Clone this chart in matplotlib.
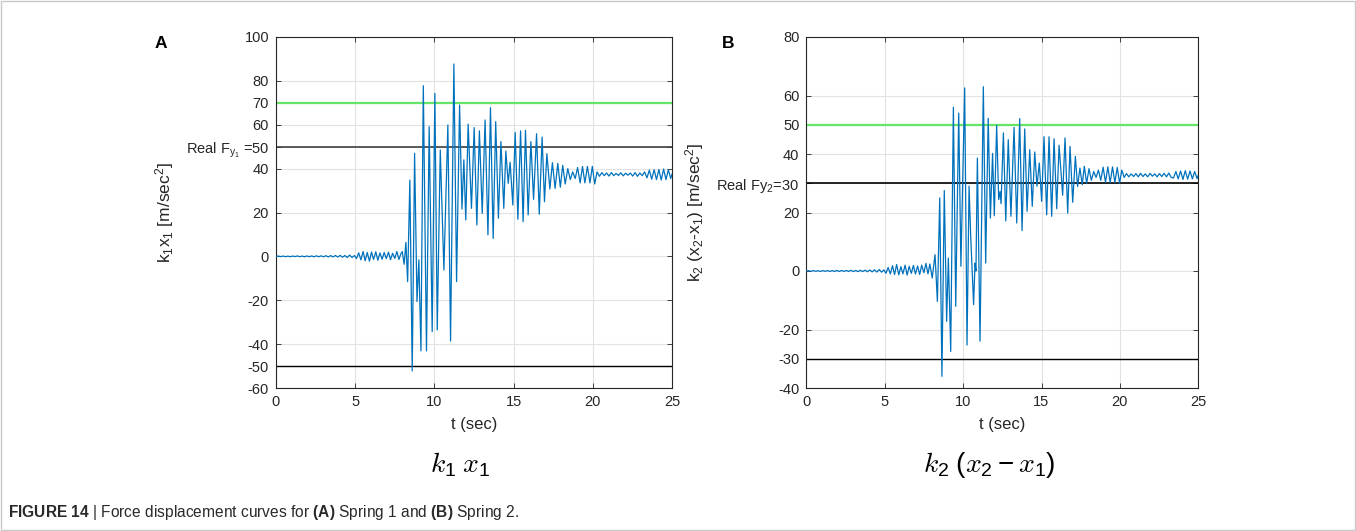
import matplotlib
matplotlib.use("Agg")
import matplotlib.pyplot as plt
from matplotlib.patches import Rectangle

plt.rcParams.update({
    "font.family": ["Liberation Sans", "DejaVu Sans"],
    "mathtext.fontset": "custom",
    "mathtext.rm": "Liberation Sans",
    "mathtext.it": "Liberation Sans:italic",
    "mathtext.bf": "Liberation Sans:bold",
    "mathtext.default": "regular",
})

# ---------------- data (peaks / troughs) ----------------
t_a = [0.00, 0.15, 0.30, 0.45, 0.60, 0.75, 0.90, 1.05, 1.20, 1.35, 1.50, 1.65, 1.80, 1.95,
       2.10, 2.25, 2.40, 2.55, 2.70, 2.85, 3.00, 3.15, 3.30, 3.45, 3.60, 3.75, 3.90, 4.05,
       4.20, 4.35, 4.50, 4.65, 4.80, 4.95,
       5.08, 5.22, 5.36, 5.50, 5.63, 5.76, 5.90, 6.03, 6.16, 6.30, 6.43, 6.56, 6.70, 6.83,
       6.96, 7.10, 7.23, 7.36, 7.50, 7.63, 7.76, 7.88,
       7.97, 8.09, 8.20, 8.31, 8.45, 8.60, 8.75, 8.90, 9.02, 9.15, 9.30, 9.50, 9.67, 9.86,
       10.03, 10.18, 10.37, 10.60, 10.85, 11.02, 11.23, 11.40, 11.59, 11.74, 11.86, 11.98,
       12.13, 12.34, 12.51, 12.68, 12.84, 13.02, 13.20, 13.38, 13.54, 13.71, 13.87, 14.04,
       14.20, 14.38, 14.51, 14.66, 14.78, 14.95, 15.10, 15.27, 15.44, 15.60, 15.75, 15.92,
       16.09, 16.26, 16.45, 16.62, 16.80, 16.95, 17.10, 17.29, 17.45, 17.62, 17.79, 17.95,
       18.10, 18.26, 18.42, 18.58, 18.73, 18.89, 19.04, 19.20, 19.35, 19.50, 19.66, 19.82,
       19.97, 20.12, 20.27, 20.42, 20.57, 20.72, 20.87, 21.02, 21.17, 21.32, 21.47, 21.62,
       21.77, 21.92, 22.07, 22.22, 22.37, 22.52, 22.67, 22.82, 22.97, 23.12, 23.27, 23.42,
       23.57, 23.72, 23.87, 24.02, 24.17, 24.32, 24.47, 24.62, 24.77, 24.92, 25.00]
y_a = [0.0, 0.15, -0.1, 0.15, -0.15, 0.1, -0.15, 0.15, -0.1, 0.2, -0.15, 0.15, -0.2, 0.2,
       -0.15, 0.2, -0.2, 0.25, -0.15, 0.25, -0.2, 0.3, -0.25, 0.35, -0.25, 0.4, -0.3, 0.45,
       -0.4, 0.4, -0.5, 0.6, -0.5, 0.4,
       -1.0, 1.6, -1.6, 2.2, -2.0, 1.8, -2.2, 2.0, -1.4, 2.1, -1.8, 1.6, -1.3, 1.8,
       -1.0, 1.9, -1.5, 1.4, -0.9, 2.2, -1.4, 1.1,
       2.2, -3.6, 6.4, -11.5, 34.8, -52.2, 47.0, -20.6, -1.6, -43.1, 77.8, -43.1, 59.1, -34.3,
       74.3, -33.5, 48.5, -6.2, 59.9, -38.6, 87.7, -11.5, 69.0, 21.6, 44.0, 16.6,
       60.3, 21.9, 58.7, 14.3, 57.2, 19.6, 62.2, 9.8, 67.8, 8.2, 61.4, 17.4,
       52.3, 21.9, 48.0, 33.3, 42.9, 23.4, 56.5, 16.9, 57.2, 15.8, 57.5, 18.9,
       52.3, 26.0, 55.9, 19.2, 54.4, 24.9, 46.8, 30.7, 42.7, 31.0, 42.4, 31.5,
       41.5, 33.0, 40.0, 35.0, 38.5, 35.5, 40.5, 33.5, 41.0, 33.5, 41.0, 33.5,
       41.0, 33.0, 38.5, 36.5, 38.2, 36.8, 38.0, 36.6, 38.2, 36.8, 37.8, 36.9,
       38.1, 36.7, 37.9, 37.0, 38.0, 36.6, 38.2, 36.5, 38.0, 36.8, 38.5, 35.8,
       39.3, 35.2, 39.5, 35.0, 39.6, 34.8, 39.8, 35.0, 39.5, 35.5, 37.5]

t_b = [0.00, 0.15, 0.30, 0.45, 0.60, 0.75, 0.90, 1.05, 1.20, 1.35, 1.50, 1.65, 1.80, 1.95,
       2.10, 2.25, 2.40, 2.55, 2.70, 2.85, 3.00, 3.15, 3.30, 3.45, 3.60, 3.75, 3.90, 4.05,
       4.20, 4.35, 4.50, 4.65, 4.80, 4.95,
       5.08, 5.22, 5.36, 5.50, 5.63, 5.76, 5.90, 6.03, 6.16, 6.30, 6.43, 6.56, 6.70, 6.83,
       6.96, 7.10, 7.23, 7.36, 7.50, 7.63, 7.76, 7.88, 8.03,
       8.21, 8.36, 8.51, 8.65, 8.80, 8.95, 9.06, 9.21, 9.38, 9.53, 9.72, 9.86, 10.10, 10.25,
       10.38, 10.48, 10.67, 10.76, 10.82, 10.91, 11.08, 11.29, 11.44, 11.60, 11.74, 11.88,
       11.99, 12.14, 12.27, 12.36, 12.42, 12.57, 12.72, 12.88, 13.05, 13.25, 13.42, 13.61,
       13.76, 13.93, 14.08, 14.25, 14.41, 14.57, 14.71, 14.86, 15.01, 15.16, 15.33, 15.48,
       15.65, 15.80, 15.97, 16.12, 16.35, 16.50, 16.67, 16.82, 16.99, 17.16, 17.30, 17.45,
       17.60, 17.73, 17.88, 18.03, 18.18, 18.33, 18.48, 18.63, 18.78, 18.93, 19.08, 19.23,
       19.38, 19.53, 19.68, 19.83, 19.98, 20.12, 20.27, 20.42, 20.57, 20.72, 20.87, 21.02,
       21.17, 21.32, 21.47, 21.62, 21.77, 21.92, 22.07, 22.22, 22.37, 22.52, 22.67, 22.82,
       22.97, 23.12, 23.27, 23.42, 23.57, 23.72, 23.87, 24.02, 24.17, 24.32, 24.47, 24.62,
       24.77, 24.92, 25.00]
y_b = [0.0, 0.1, -0.1, 0.15, -0.1, 0.1, -0.15, 0.15, -0.1, 0.15, -0.15, 0.15, -0.15, 0.2,
       -0.15, 0.2, -0.15, 0.2, -0.15, 0.25, -0.2, 0.2, -0.2, 0.25, -0.2, 0.3, -0.25, 0.35,
       -0.3, 0.4, -0.35, 0.5, -0.4, 0.4,
       -0.8, 1.2, -1.0, 1.8, -1.2, 2.2, -1.3, 1.5, -1.0, 2.0, -1.4, 1.6, -0.8, 1.9,
       -1.0, 1.7, -1.2, 2.0, -0.6, 2.6, -1.0, 2.4, -2.4,
       5.6, -10.4, 25.0, -36.0, 27.5, -17.2, 4.4, -27.5, 56.0, -12.1, 54.0, 1.6, 62.6, -25.3,
       29.0, 12.6, -11.5, 2.7, 0.0, 38.6, -24.0, 63.0, 2.7, 52.2, 18.1, 40.2,
       18.9, 49.8, 24.4, 27.2, 23.0, 47.2, 17.1, 44.9, 18.7, 49.1, 16.4, 52.1,
       13.8, 48.6, 20.4, 41.5, 22.1, 40.7, 29.0, 36.9, 23.8, 45.9, 19.2, 45.9,
       18.7, 45.2, 21.3, 43.0, 25.9, 45.5, 19.8, 42.6, 23.5, 39.2, 28.9, 35.2,
       29.5, 35.8, 30.0, 35.0, 31.0, 34.0, 32.0, 34.5, 31.0, 35.5, 30.3, 35.6,
       30.2, 35.6, 30.2, 35.4, 30.0, 34.5, 32.0, 33.3, 32.2, 33.2, 32.3, 33.3,
       32.2, 33.4, 32.3, 33.2, 32.2, 33.4, 32.4, 33.2, 32.2, 33.3, 32.3, 33.4,
       32.2, 33.5, 32.0, 31.8, 34.0, 31.5, 34.2, 31.3, 34.3, 31.4, 34.2, 31.5,
       34.0, 31.6, 32.8]

yticks_a = [-60, -50, -40, -20, 0, 20, 40, 50, 60, 70, 80, 100]
ylabels_a = ["-60", "-50", "-40", "-20", "0", "20", "40", "Real F$_{y_{1}}$ =50",
             "60", "70", "80", "100"]
yticks_b = [-40, -30, -20, 0, 20, 30, 40, 50, 60, 80]
ylabels_b = ["-40", "-30", "-20", "0", "20", "Real Fy$_2$=30", "40", "50", "60", "80"]
xticks = [0, 5, 10, 15, 20, 25]

limit_a = 70      # green line
yield_a = 50      # real yield force
limit_b = 50
yield_b = 30

# ---------------- figure ----------------
W, H = 1356, 531
fig = plt.figure(figsize=(W / 100, H / 100), dpi=100)

def px(x, y):
    return x / W, 1 - y / H

axA = fig.add_axes([276 / W, 1 - 388 / H, 396 / W, 351 / H])
axB = fig.add_axes([806.3 / W, 1 - 388 / H, 392 / W, 351 / H])

dark = "#262626"
blue = "#0072BD"
green = "#66E466"

def style(ax, t, y, ylim, yt, yl, lim, yld, ytop_col):
    ax.plot(t, y, color=blue, lw=0.9, zorder=3)
    ax.axhline(lim, color=green, lw=1.6, zorder=2)
    ax.axhline(yld, color=ytop_col, lw=1.2, zorder=2)
    ax.axhline(-yld, color="black", lw=1.0, zorder=2)
    ax.set_xlim(0, 25)
    ax.set_ylim(*ylim)
    ax.set_xticks(xticks)
    ax.set_xticklabels([str(v) for v in xticks])
    ax.set_yticks(yt)
    ax.set_yticklabels(yl)
    ax.grid(True, color="#e2e2e2", lw=0.8)
    ax.set_axisbelow(True)
    for s in ax.spines.values():
        s.set_color(dark)
        s.set_linewidth(0.8)
    ax.tick_params(direction="in", length=3.5, width=0.6, top=True, right=True,
                   labelsize=10.5, colors=dark, pad=5)

style(axA, t_a, y_a, (-60, 100), yticks_a, ylabels_a, limit_a, yield_a, "#404040")
style(axB, t_b, y_b, (-40, 80), yticks_b, ylabels_b, limit_b, yield_b, "black")

# axis labels
fig.text(*px(165, 212), "k$_1$x$_1$ [m/sec$^2$]", rotation=90, ha="center", va="center",
         fontsize=12.5, color=dark)
fig.text(*px(695, 212), "k$_2$ (x$_2$-x$_1$) [m/sec$^2$]", rotation=90, ha="center",
         va="center", fontsize=12.5, color=dark)
fig.text(*px(474, 424), "t (sec)", ha="center", va="center", fontsize=12, color=dark)
fig.text(*px(1002, 424), "t (sec)", ha="center", va="center", fontsize=12, color=dark)

# panel letters
fig.text(*px(161, 43), "A", ha="center", va="center", fontsize=12.5, weight="bold")
fig.text(*px(728, 43), "B", ha="center", va="center", fontsize=12.5, weight="bold")

# math captions under panels
fig.text(*px(460, 465), r"$\mathit{k}_1\;\mathit{x}_1$", math_fontfamily="cm",
         ha="center", va="center", fontsize=20)
fig.text(*px(989, 465), r"$\mathit{k}_2\;(\mathit{x}_2-\mathit{x}_1)$", math_fontfamily="cm",
         ha="center", va="center", fontsize=20)

# figure caption
fig.text(*px(8, 513),
         r"$\mathbf{FIGURE\ 14}$ | Force displacement curves for $\mathbf{(A)}$ Spring 1 and "
         r"$\mathbf{(B)}$ Spring 2.",
         ha="left", va="center", fontsize=11.2, color="#2a2a2a")

# light frame around the figure
fig.patches.append(Rectangle((0.0008, 0.0015), 0.9984, 0.997, transform=fig.transFigure,
                             fill=False, ec="#c8c8c8", lw=1.0))

fig.savefig("out.png", dpi=100)
